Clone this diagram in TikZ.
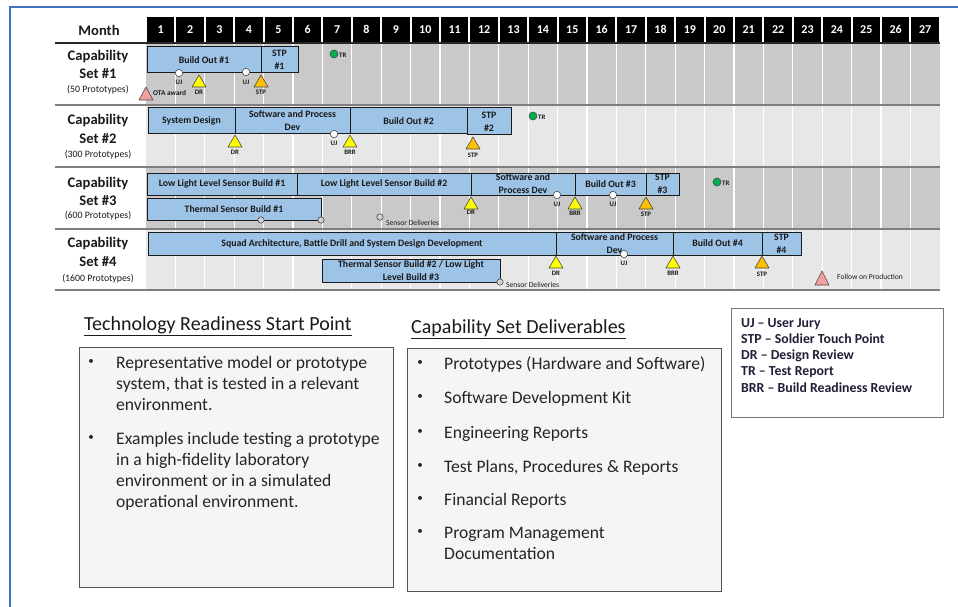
\documentclass[tikz,border=0pt]{standalone}
\usepackage{fontspec}
\setmainfont{Carlito}
\definecolor{barblue}{HTML}{9DC3E6}
\definecolor{rowdark}{HTML}{C9C9C9}
\definecolor{rowlight}{HTML}{E7E7E7}
\definecolor{frameblue}{HTML}{4472C4}
\definecolor{ylw}{HTML}{FFFF00}
\definecolor{org}{HTML}{FFC000}
\definecolor{pnk}{HTML}{F4A0A0}
\definecolor{grn}{HTML}{00B050}
\definecolor{boxfill}{HTML}{F5F5F5}
\definecolor{navy}{HTML}{1F2038}
\definecolor{ink}{HTML}{1A1A1A}
\definecolor{sepgray}{HTML}{7F7F7F}
\newcommand\gbar[6]{\node[bar, anchor=north west, minimum width={(#4-#2)*1pt}, minimum height={(#5-#3)*1pt}] (#1) at (#2,#3) {#6};}
\newcommand\gtri[4]{\draw[trist, fill=#4] (#2-7,#3+12) -- (#2,#3) -- (#2+7,#3+12) -- cycle;}
\begin{document}
\begin{tikzpicture}[x=1pt,y=-1pt,
  bar/.style={draw=ink, line width=1pt, fill=barblue, inner sep=0pt, outer sep=0pt, align=center, text=ink, font=\bfseries\fontsize{9.8}{13}\selectfont},
  trist/.style={draw=ink!80, line width=0.6pt, line join=round},
  ujst/.style={draw=ink!80, fill=white, line width=0.6pt},
  sdst/.style={draw=ink!80, fill=gray!35, line width=0.6pt},
  trst/.style={draw=ink!80, fill=grn, line width=0.6pt},
  mlab/.style={inner sep=0pt, text=ink, font=\bfseries\fontsize{6.8}{7}\selectfont},
  mlabw/.style={mlab, anchor=west},
  monthnum/.style={inner sep=0pt, text=white, font=\bfseries\fontsize{12}{13}\selectfont},
  rowlab/.style={inner sep=0pt, text=ink, font=\bfseries\fontsize{14.6}{16}\selectfont},
  rowsub/.style={inner sep=0pt, text=ink, font=\fontsize{9.8}{10}\selectfont},
  sep/.style={draw=sepgray, line width=2pt},
  panel/.style={draw=ink!75, line width=1pt, fill=boxfill, inner sep=0pt, anchor=north west},
  btxt/.style={inner sep=0pt, anchor=base west, yshift=-6pt, text=ink!95, font=\fontsize{17.6}{20}\selectfont},
  bul/.style={inner sep=0pt, text=navy, font=\fontsize{11}{12}\selectfont},
  ttl/.style={inner sep=0pt, anchor=base west, yshift=-6.5pt, text=ink, font=\fontsize{20}{22}\selectfont},
  legt/.style={inner sep=0pt, anchor=base west, yshift=-4.6pt, text=navy, font=\bfseries\fontsize{13.8}{15}\selectfont}
]
\useasboundingbox (0,0) rectangle (958,607);
\fill[white] (0,0) rectangle (958,607);
\draw[frameblue, line width=2pt] (10,607) -- (10,7) -- (958,7);

% header
\node[rowlab] (month) at (99,30) {Month};
\foreach \k in {1,...,27} {
  \pgfmathsetmacro\xa{146+29.4*(\k-1)+1}
  \pgfmathsetmacro\xb{146+29.4*\k-1}
  \fill[black] (\xa,17) rectangle (\xb,42);
  \node[monthnum] (m\k) at ({(\xa+\xb)/2},29.5) {\k};
}

% row backgrounds
\fill[rowdark] (146,44) rectangle (940,104);
\fill[rowlight] (146,106) rectangle (940,166);
\fill[rowdark] (146,168) rectangle (940,228);
\fill[rowlight] (146,230) rectangle (940,289);
\foreach \k in {1,...,26} {
  \pgfmathsetmacro\xv{146+29.4*\k}
  \draw[white, line width=1.2pt] (\xv,44) -- (\xv,289);
}
\draw[black!85, line width=1.5pt] (55,43) -- (940,43);
\draw[sep] (55,105) -- (940,105);
\draw[sep] (55,167) -- (940,167);
\draw[sep] (55,229) -- (940,229);
\draw[sep] (55,290) -- (940,290);

% row labels
\node[rowlab] (c1a) at (98,57) {Capability};
\node[rowlab] (c1b) at (98,74) {Set \#1};
\node[rowsub] (c1c) at (98,90) {(50 Prototypes)};
\node[rowlab] (c2a) at (98,121) {Capability};
\node[rowlab] (c2b) at (98,139) {Set \#2};
\node[rowsub] (c2c) at (98,155) {(300 Prototypes)};
\node[rowlab] (c3a) at (98,184) {Capability};
\node[rowlab] (c3b) at (98,201) {Set \#3};
\node[rowsub] (c3c) at (98,216) {(600 Prototypes)};
\node[rowlab] (c4a) at (98,244) {Capability};
\node[rowlab] (c4b) at (98,262) {Set \#4};
\node[rowsub] (c4c) at (98,279) {(1600 Prototypes)};

% row 1
\gbar{b11}{147}{47}{261}{73}{Build Out \#1}
\gbar{b12}{261}{47}{298}{73}{STP\\\#1}
\draw[ujst] (179,73) circle (3.7pt);
\node[mlab] (u11) at (179,82) {UJ};
\draw[ujst] (246,72) circle (3.7pt);
\node[mlab] (u12) at (246,82) {UJ};
\gtri{t11}{199}{75}{ylw}
\node[mlab] (d11) at (199,92) {DR};
\gtri{t12}{261}{75}{org}
\node[mlab] (s11) at (261,92) {STP};
\draw[trist, fill=pnk] (139,100) -- (146,87) -- (153,100) -- cycle;
\node[mlabw, font=\bfseries\fontsize{7.3}{8}\selectfont] (ota) at (153,93) {OTA award};
\draw[trst] (334,54) circle (4pt);
\node[mlabw] (tr1) at (339,55) {TR};

% row 2
\gbar{b21}{148}{108}{235}{134}{System Design}
\gbar{b22}{235}{108}{350}{134}{Software and Process\\Dev}
\gbar{b23}{350}{108}{467}{134}{Build Out \#2}
\gbar{b24}{467}{108}{511}{135}{STP\\\#2}
\gtri{t21}{235}{135}{ylw}
\node[mlab] (d21) at (235,152) {DR};
\draw[ujst] (334,134) circle (3.7pt);
\node[mlab] (u21) at (334,143) {UJ};
\gtri{t22}{350}{135}{ylw}
\node[mlab] (r21) at (350,152) {BRR};
\gtri{t23}{473}{137}{org}
\node[mlab] (s21) at (473,155) {STP};
\draw[trst] (533,116) circle (4pt);
\node[mlabw] (tr2) at (538,117) {TR};

% row 3
\gbar{b31}{147}{173}{297}{195}{Low Light Level Sensor Build \#1}
\gbar{b32}{297}{173}{471}{195}{Low Light Level Sensor Build \#2}
\gbar{b33}{471}{173}{575}{195}{Software and\\Process Dev}
\gbar{b34}{575}{173}{646}{195}{Build Out \#3}
\gbar{b35}{646}{173}{679}{195}{STP\\\#3}
\gbar{b36}{147}{198}{321}{220}{Thermal Sensor Build \#1}
\draw[sdst] (261,220) circle (3.2pt);
\draw[sdst] (321,220) circle (3.2pt);
\draw[sdst] (380,217) circle (3.2pt);
\node[mlabw, font=\fontsize{7.6}{8}\selectfont] (sd3) at (386,223) {Sensor Deliveries};
\gtri{t31}{471}{197}{ylw}
\node[mlab] (d31) at (471,212) {DR};
\draw[ujst] (557,195) circle (3.7pt);
\node[mlab] (u31) at (557,204) {UJ};
\gtri{t32}{575}{197}{ylw}
\node[mlab] (r31) at (575,213) {BRR};
\draw[ujst] (613,195) circle (3.7pt);
\node[mlab] (u32) at (613,204) {UJ};
\gtri{t33}{646}{197}{org}
\node[mlab] (s31) at (646,214) {STP};
\draw[trst] (717,182) circle (4pt);
\node[mlabw] (tr3) at (722,183) {TR};

% row 4
\gbar{b41}{148}{232}{556}{255}{Squad Architecture, Battle Drill and System Design Development}
\gbar{b42}{556}{232}{673}{255}{Software and Process\\Dev}
\gbar{b43}{673}{232}{762}{255}{Build Out \#4}
\gbar{b44}{762}{232}{801}{255}{STP\\\#4}
\gbar{b45}{322}{259}{500}{282}{Thermal Sensor Build \#2 / Low Light\\Level Build \#3}
\draw[sdst] (500,282) circle (3.2pt);
\node[mlabw, font=\fontsize{7.6}{8}\selectfont] (sd4) at (506,285) {Sensor Deliveries};
\gtri{t41}{556}{256}{ylw}
\node[mlab] (d41) at (556,273) {DR};
\draw[ujst] (624,254) circle (3.7pt);
\node[mlab] (u41) at (624,263) {UJ};
\gtri{t42}{673}{256}{ylw}
\node[mlab] (r41) at (673,273) {BRR};
\gtri{t43}{762}{256}{org}
\node[mlab] (s41) at (762,274) {STP};
\draw[trist, fill=pnk] (815,285) -- (822,271) -- (829,285) -- cycle;
\node[mlabw, font=\fontsize{7.6}{8}\selectfont] (fop) at (837,277) {Follow on Production};

% lower left panel
\node[ttl] (trspt) at (84,324) {\underline{Technology Readiness Start Point}};
\node[panel, minimum width=314pt, minimum height=240pt] (lbox) at (79,347) {};
\node[bul] (lb1) at (91,362) {•};
\node[btxt] (l1) at (116,362) {Representative model or prototype};
\node[btxt] (l2) at (116,383) {system, that is tested in a relevant};
\node[btxt] (l3) at (116,404) {environment.};
\node[bul] (lb2) at (91,438) {•};
\node[btxt] (l4) at (116,438) {Examples include testing a prototype};
\node[btxt] (l5) at (116,459) {in a high-fidelity laboratory};
\node[btxt] (l6) at (116,480) {environment or in a simulated};
\node[btxt] (l7) at (116,501) {operational environment.};

% lower middle panel
\node[ttl] (csd) at (411,327) {\underline{Capability Set Deliverables}};
\node[panel, minimum width=314pt, minimum height=243pt] (rbox) at (407,348) {};
\node[bul] (rb1) at (420,363) {•};
\node[btxt] (r1) at (444,363) {Prototypes (Hardware and Software)};
\node[bul] (rb2) at (420,397) {•};
\node[btxt] (r2) at (444,397) {Software Development Kit};
\node[bul] (rb3) at (420,432) {•};
\node[btxt] (r3) at (444,432) {Engineering Reports};
\node[bul] (rb4) at (420,466) {•};
\node[btxt] (r4) at (444,466) {Test Plans, Procedures \& Reports};
\node[bul] (rb5) at (420,499) {•};
\node[btxt] (r5) at (444,499) {Financial Reports};
\node[bul] (rb6) at (420,532) {•};
\node[btxt] (r6) at (444,532) {Program Management};
\node[btxt] (r7) at (444,553) {Documentation};

% legend
\node[panel, fill=white, draw=ink!60, minimum width=212pt, minimum height=109pt] (legbox) at (731,308) {};
\node[legt] (lg1) at (741,323) {UJ – User Jury};
\node[legt] (lg2) at (741,339) {STP – Soldier Touch Point};
\node[legt] (lg3) at (741,355) {DR – Design Review};
\node[legt] (lg4) at (741,371) {TR – Test Report};
\node[legt] (lg5) at (741,388) {BRR – Build Readiness Review};
\end{tikzpicture}
\end{document}
